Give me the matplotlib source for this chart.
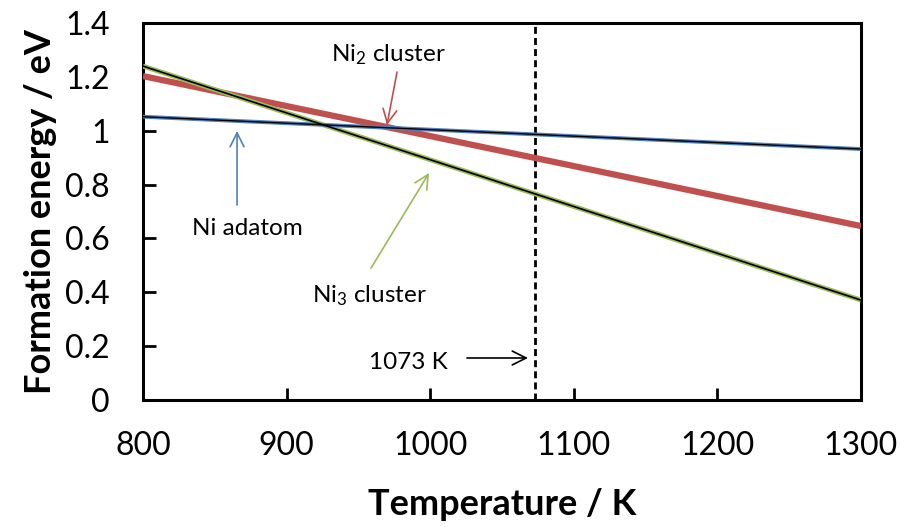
import numpy as np
import matplotlib.pyplot as plt

plt.rcParams['font.family'] = ['Lato', 'DejaVu Sans']
plt.rcParams['mathtext.fontset'] = 'custom'
plt.rcParams['mathtext.rm'] = 'Lato'
plt.rcParams['mathtext.it'] = 'Lato:italic'

# end points of the formation energy lines (eV)
temp = np.array([800, 1300])
ni_adatom = np.array([1.052, 0.932])
ni2_cluster = np.array([1.203, 0.646])
ni3_cluster = np.array([1.240, 0.371])
T_anneal = 1073

fig = plt.figure(figsize=(9.01, 5.27), dpi=100)
ax = fig.add_axes([0.1587, 0.241, 0.7969, 0.7153])

ax.plot(temp, ni2_cluster, color='#c0504d', lw=4.5, solid_capstyle='butt', zorder=3)
ax.plot(temp, ni3_cluster, color='#9bbb59', lw=3.5, solid_capstyle='butt', zorder=4)
ax.plot(temp, ni3_cluster, color='black', lw=1.2, zorder=5)
ax.plot(temp, ni_adatom, color='#4f81bd', lw=2.8, solid_capstyle='butt', zorder=4)
ax.plot(temp, ni_adatom, color='black', lw=1.0, zorder=5)
ax.axvline(T_anneal, color='black', lw=2, ls=(0, (2.5, 1.5)), zorder=2)


def arrow(tail, head, color):
    ax.annotate('', xy=head, xytext=tail,
                arrowprops=dict(arrowstyle='->,head_length=1.0,head_width=0.5',
                                color=color, lw=1.2, shrinkA=0, shrinkB=0))


# labels with arrows
ax.text(970.6, 1.259, 'Ni$_\\mathregular{2}$ cluster', ha='center', va='baseline', fontsize=17.5)
arrow((976.9, 1.218), (969.9, 1.021), '#c0504d')
ax.text(872.4, 0.613, 'Ni adatom', ha='center', va='baseline', fontsize=17.5)
arrow((865.5, 0.724), (865.5, 0.999), '#4f81bd')
ax.text(957.4, 0.364, 'Ni$_\\mathregular{3}$ cluster', ha='center', va='baseline', fontsize=17.5)
arrow((958.8, 0.490), (999.2, 0.843), '#9bbb59')
ax.text(1012.5, 0.115, '1073 K', ha='right', va='baseline', fontsize=17.5)
arrow((1025.6, 0.156), (1068.1, 0.156), 'black')

ax.set_xlim(800, 1300)
ax.set_ylim(0, 1.4)
ax.set_xticks(np.arange(800, 1301, 100))
ax.set_yticks(np.arange(0, 1.41, 0.2))
ax.set_yticklabels(['0', '0.2', '0.4', '0.6', '0.8', '1', '1.2', '1.4'])
ax.tick_params(direction='in', length=9, width=2, labelsize=23)
ax.tick_params(axis='x', pad=22)
ax.tick_params(axis='y', pad=24)
for s in ax.spines.values():
    s.set_linewidth(2.2)

ax.set_xlabel('Temperature / K', fontsize=26, fontweight='bold', labelpad=20)
ax.set_ylabel('Formation energy / eV', fontsize=26, fontweight='bold', labelpad=6)

fig.savefig('out.png', dpi=100)
